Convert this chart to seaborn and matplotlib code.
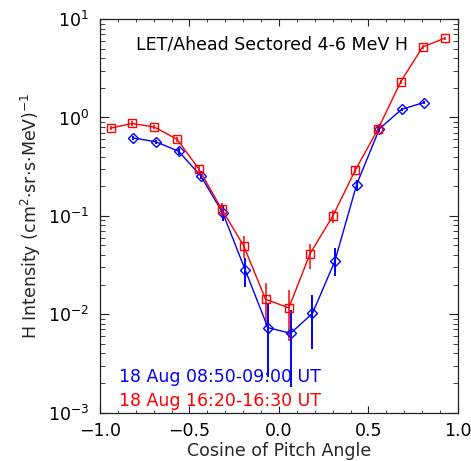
import matplotlib
matplotlib.use("Agg")
import matplotlib.pyplot as plt
import matplotlib.ticker as mticker
import numpy as np
import pandas as pd
import seaborn as sns

# 18 Aug 08:50-09:00 UT (blue diamonds)
mu_early = [-0.814, -0.686, -0.561, -0.437, -0.313, -0.188, -0.062, 0.065,
            0.187, 0.312, 0.434, 0.561, 0.685, 0.810]
flux_early = [0.62, 0.565, 0.454, 0.255, 0.106, 0.028, 0.0073, 0.0064,
              0.0102, 0.0346, 0.208, 0.766, 1.21, 1.42]
lo_early = [0.59, 0.54, 0.42, 0.235, 0.089, 0.0187, 0.0023, 0.0018,
            0.0044, 0.0243, 0.18, 0.72, 1.16, 1.37]
hi_early = [0.65, 0.59, 0.49, 0.275, 0.13, 0.037, 0.0126, 0.011,
            0.0156, 0.0466, 0.23, 0.81, 1.26, 1.47]

# 18 Aug 16:20-16:30 UT (red squares)
mu_late = [-0.940, -0.820, -0.697, -0.569, -0.448, -0.320, -0.197, -0.075,
           0.055, 0.174, 0.300, 0.427, 0.553, 0.680, 0.802, 0.925]
flux_late = [0.78, 0.87, 0.80, 0.60, 0.30, 0.117, 0.0495, 0.0142,
             0.0116, 0.0414, 0.099, 0.293, 0.76, 2.30, 5.2, 6.4]
lo_late = [0.75, 0.82, 0.76, 0.56, 0.27, 0.097, 0.037, 0.0074,
           0.0054, 0.029, 0.085, 0.27, 0.72, 2.2, 5.0, 6.2]
hi_late = [0.81, 0.92, 0.84, 0.64, 0.33, 0.134, 0.062, 0.0208,
           0.0177, 0.052, 0.116, 0.32, 0.80, 2.4, 5.4, 6.6]

df_early = pd.DataFrame({"mu": mu_early, "flux": flux_early})
df_late = pd.DataFrame({"mu": mu_late, "flux": flux_late})

sns.set_style("ticks")
plt.rcParams["font.family"] = ["DejaVu Sans"]
plt.rcParams["font.size"] = 12.5
plt.rcParams["axes.unicode_minus"] = True

fs = 12.5
fig = plt.figure(figsize=(4.71, 4.61), dpi=100)
ax = fig.add_axes([0.2123, 0.105, 0.7600, 0.8535])

blue = "#0000ff"
red = "#ff0000"

ax.vlines(mu_early, lo_early, hi_early, color=blue, lw=1.4, zorder=2)
ax.vlines(mu_late, lo_late, hi_late, color=red, lw=1.1, zorder=2)

sns.lineplot(data=df_early, x="mu", y="flux", ax=ax, color=blue, lw=1.0,
             marker="D", markersize=5.0, markerfacecolor="none",
             markeredgecolor=blue, markeredgewidth=1.0, errorbar=None, zorder=3)
sns.lineplot(data=df_late, x="mu", y="flux", ax=ax, color=red, lw=1.0,
             marker="s", markersize=6.0, markerfacecolor="none",
             markeredgecolor=red, markeredgewidth=1.0, errorbar=None, zorder=3)

ax.set_yscale("log")
ax.set_xlim(-1.0, 1.0)
ax.set_ylim(1e-3, 1e1)
ax.xaxis.set_major_locator(mticker.MultipleLocator(0.5))
ax.xaxis.set_minor_locator(mticker.MultipleLocator(0.1))
ax.xaxis.set_major_formatter(mticker.FuncFormatter(
    lambda v, p: f"{v:.1f}".replace("-", "\u2212")))
ax.yaxis.set_minor_locator(mticker.LogLocator(base=10, subs=np.arange(2, 10)))
ax.yaxis.set_minor_formatter(mticker.NullFormatter())

ax.tick_params(which="both", direction="in", top=True, right=True,
               colors="#222222", labelcolor="black", labelsize=fs)
ax.tick_params(axis="x", which="major", length=5, pad=7)
ax.tick_params(axis="x", which="minor", length=2.5)
ax.tick_params(axis="y", which="major", length=6.5, pad=8)
ax.tick_params(axis="y", which="minor", length=3.5)
for s in ax.spines.values():
    s.set_linewidth(0.9)
    s.set_color("#222222")

ax.set_xlabel("Cosine of Pitch Angle", fontsize=fs, labelpad=1)
ax.set_ylabel(r"H Intensity (cm$^2$$\cdot$sr$\cdot$s$\cdot$MeV)$^{-1}$",
              fontsize=fs, labelpad=3)

ax.text(0.10, 0.935, "LET/Ahead Sectored 4-6 MeV H", transform=ax.transAxes,
        fontsize=fs, ha="left", va="center", color="black")
ax.text(0.053, 0.090, "18 Aug 08:50-09:00 UT", transform=ax.transAxes,
        fontsize=fs, ha="left", va="center", color=blue)
ax.text(0.053, 0.030, "18 Aug 16:20-16:30 UT", transform=ax.transAxes,
        fontsize=fs, ha="left", va="center", color=red)

fig.savefig("out.png", dpi=100)
